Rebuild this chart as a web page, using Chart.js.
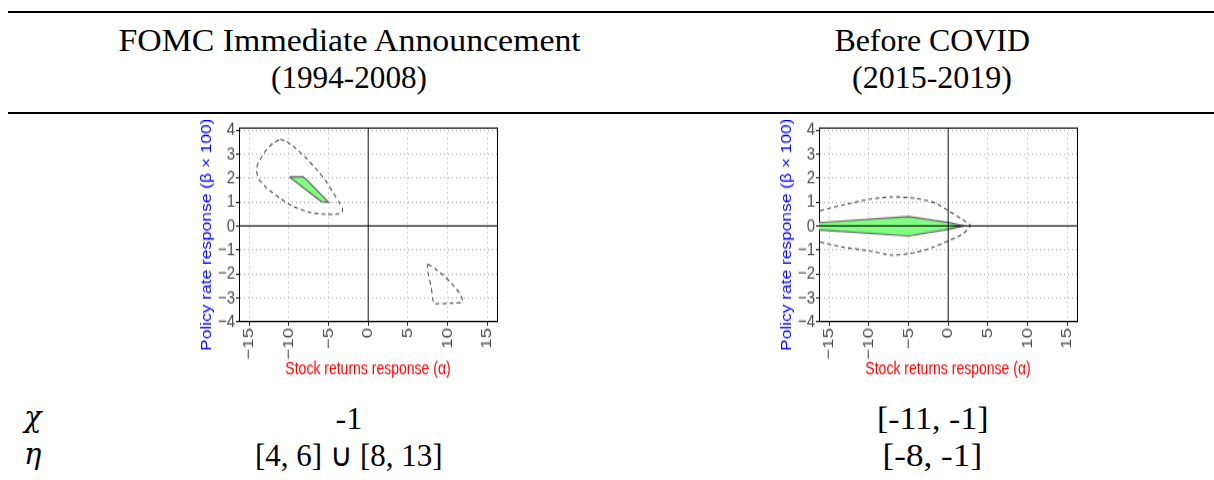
<!DOCTYPE html>
<html lang="en">
<head>
  <meta charset="UTF-8">
  <title>Identified sets: FOMC vs Before COVID</title>
  <script src="https://cdn.jsdelivr.net/npm/chart.js"></script>
  <style>
    body { margin: 0; width: 1214px; height: 480px; background: #fff; position: relative; overflow: hidden;
           font-family: "Liberation Serif", serif; color: #000; }
    .rule { position: absolute; left: 8px; right: 0; height: 2px; background: #000; }
    .txt { position: absolute; font-size: 32px; line-height: 32px; white-space: nowrap; transform-origin: 50% 50%; }
    .math { font-family: "DejaVu Serif", serif; font-style: italic; font-size: 29px; }
    /* the R figures were squeezed into the table taller than wide */
    .plot { position: absolute; top: 120px; width: 310px; height: 211.3px; transform: scaleY(1.24); transform-origin: 0 0; }
  </style>
</head>
<body>
  <div class="rule" style="top:11px"></div>
  <div class="rule" style="top:112px"></div>

  <div class="plot" style="left:195px"><canvas id="fomcChart"></canvas></div>
  <div class="plot" style="left:775px"><canvas id="covidChart"></canvas></div>

  <script>
    // table text
    const colTitles = ['FOMC Immediate Announcement', 'Before COVID'];
    const colPeriods = ['(1994-2008)', '(2015-2019)'];
    const chiRow = ['-1', '[-11, -1]'];
    const etaRow = ['[4, 6] \u222A [8, 13]', '[-8, -1]'];

    // axis ticks
    const xTicks = [-15, -10, -5, 0, 5, 10, 15];
    const yTicks = [-4, -3, -2, -1, 0, 1, 2, 3, 4];

    // FOMC 1994-2008: identified set (green) and confidence band (dashed, two pieces)
    const fomcSetX = [-9.92, -8.2, -7.8, -5.0, -5.9, -9.92];
    const fomcSetY = [2.04, 2.04, 1.93, 0.99, 1.01, 2.04];
    const fomcBandAX = [-11.1, -10.3, -9.2, -7.9, -6.6, -5.4, -4.4, -3.7, -3.25, -3.3, -3.8, -5.2, -7.3, -9.4, -11.1, -12.8, -13.85, -14.1, -13.85, -13.0, -12.0, -11.1];
    const fomcBandAY = [3.61, 3.52, 3.25, 2.85, 2.38, 1.9, 1.38, 1.0, 0.72, 0.57, 0.5, 0.48, 0.56, 0.8, 1.15, 1.58, 1.98, 2.35, 2.65, 3.1, 3.45, 3.61];
    const fomcBandBX = [7.57, 8.4, 9.46, 10.5, 11.5, 11.9, 11.75, 10.7, 8.3, 8.15, 7.95, 7.6, 7.45, 7.57];
    const fomcBandBY = [-1.59, -1.78, -2.05, -2.39, -2.79, -3.07, -3.2, -3.22, -3.24, -3.05, -2.55, -2.05, -1.72, -1.59];

    // Before COVID 2015-2019
    const covidSetX = [-17, -5.0, 0, 2.0, 0, -5.0, -17, -17];
    const covidSetY = [0.12, 0.39, 0.14, 0, -0.14, -0.42, -0.15, 0.12];
    const covidBandX = [-17, -16.2, -13.4, -10, -7.06, -4.1, -1.6, 0, 1.76, 2.8, 1.76, 0, -2, -4.1, -7.06, -10, -13.4, -16.2, -17];
    const covidBandY = [0.55, 0.63, 0.86, 1.11, 1.21, 1.15, 0.95, 0.63, 0.28, 0, -0.35, -0.63, -0.9, -1.11, -1.22, -1.04, -0.88, -0.67, -0.6];

    const X_MIN = -16.3, X_MAX = 16.25, Y_MIN = -4.01, Y_MAX = 4.083;

    // ---- table text ----
    function addText(str, cx, top, w, cls) {
      const el = document.createElement('div');
      el.className = 'txt' + (cls ? ' ' + cls : '');
      el.textContent = str;
      el.style.top = top + 'px';
      document.body.appendChild(el);
      const nat = el.offsetWidth;
      if (cx === null) { el.style.left = '24px'; el.style.transformOrigin = '0 50%'; }
      else el.style.left = (cx - nat / 2) + 'px';
      if (w) el.style.transform = 'scaleX(' + (w / nat) + ')';
    }
    const colCenters = [349, 932];
    const titleWidths = [462, 195];
    const periodWidths = [156, 160];
    const chiWidths = [null, 111];
    const etaWidths = [188, 100];
    colTitles.forEach((t, i) => addText(t, colCenters[i], 24, titleWidths[i]));
    colPeriods.forEach((t, i) => addText(t, colCenters[i], 61, periodWidths[i]));
    chiRow.forEach((t, i) => addText(t, colCenters[i], 402, chiWidths[i]));
    etaRow.forEach((t, i) => addText(t, colCenters[i], 439, etaWidths[i]));
    addText('\u03C7', null, 401, null, 'math');
    addText('\u03B7', null, 438, null, 'math');

    // ---- charts ----
    const pts = (xs, ys) => xs.map((x, i) => ({ x: x, y: ys[i] }));
    const fmt = v => (v < 0 ? '\u2212' + Math.abs(v) : String(v));
    const tickFont = { family: 'Liberation Sans', size: 15 };
    const titleFont = { family: 'Liberation Sans', size: 14 };
    const gridColor = c => (c.tick && c.tick.value === 0 ? 'rgba(0,0,0,0)' : '#b4b4b4');

    function zeroLines() {
      return [
        { data: [{ x: X_MIN, y: 0 }, { x: X_MAX, y: 0 }], showLine: true, borderColor: '#000', borderWidth: 1 },
        { data: [{ x: 0, y: Y_MIN }, { x: 0, y: Y_MAX }], showLine: true, borderColor: '#111', borderWidth: 1 }
      ];
    }
    function setDataset(data) {
      return { data: data, showLine: true, borderColor: '#6a6a6a', borderWidth: 1.2, backgroundColor: '#80ff80', fill: 'shape', tension: 0 };
    }
    function bandDataset(data, tension) {
      return { data: data, showLine: true, borderColor: '#555', borderWidth: 1.1, borderDash: [4, 3], fill: false, tension: tension };
    }

    function drawChart(canvasId, datasets) {
      new Chart(document.getElementById(canvasId), {
        type: 'scatter',
        data: { datasets: datasets },
        options: {
          responsive: true,
          maintainAspectRatio: false,
          animation: false,
          events: [],
          layout: { padding: { left: 0, top: 6.45, right: 8, bottom: 0 } },
          plugins: { legend: { display: false }, tooltip: { enabled: false } },
          elements: { point: { radius: 0 } },
          scales: {
            x: {
              type: 'linear', min: X_MIN, max: X_MAX,
              afterBuildTicks: s => { s.ticks = xTicks.map(v => ({ value: v })); },
              afterFit: s => { s.height = 48.4; s.paddingLeft = 0; s.paddingRight = 0; },
              ticks: { color: '#4d4d4d', font: tickFont, minRotation: 90, maxRotation: 90, autoSkip: false, padding: 1.8, callback: fmt },
              grid: { color: gridColor, tickColor: '#222', tickLength: 3, lineWidth: 1 },
              border: { display: true, color: '#000', width: 1, dash: [1, 3] },
              title: { display: true, text: 'Stock returns response (\u03B1)', color: '#ff0000', font: titleFont, padding: { top: 0, bottom: 2.1 } }
            },
            y: {
              type: 'linear', min: Y_MIN, max: Y_MAX,
              afterBuildTicks: s => { s.ticks = yTicks.map(v => ({ value: v })); },
              afterFit: s => { s.width = 44; s.paddingTop = 0; s.paddingBottom = 0; },
              ticks: { color: '#4d4d4d', font: tickFont, autoSkip: false, padding: 1, callback: fmt },
              grid: { color: gridColor, tickColor: '#222', tickLength: 3, lineWidth: 1 },
              border: { display: true, color: '#000', width: 1, dash: [1, 3] },
              title: { display: true, text: 'Policy rate response (\u03B2 \u00D7 100)' + '\u00A0\u00A0\u00A0\u00A0', color: '#0000ff', font: titleFont, padding: { top: 3.6, bottom: 0 } }
            },
            x2: {
              type: 'linear', position: 'top', min: X_MIN, max: X_MAX,
              ticks: { display: false },
              grid: { drawOnChartArea: false, drawTicks: false },
              border: { display: true, color: '#000', width: 1 },
              afterFit: s => { s.height = 0; s.paddingLeft = 0; s.paddingRight = 0; }
            },
            y2: {
              type: 'linear', position: 'right', min: Y_MIN, max: Y_MAX,
              ticks: { display: false },
              grid: { drawOnChartArea: false, drawTicks: false },
              border: { display: true, color: '#000', width: 1 },
              afterFit: s => { s.width = 0; s.paddingTop = 0; s.paddingBottom = 0; }
            }
          }
        }
      });
    }

    drawChart('fomcChart', zeroLines().concat([
      setDataset(pts(fomcSetX, fomcSetY)),
      bandDataset(pts(fomcBandAX, fomcBandAY), 0.2),
      bandDataset(pts(fomcBandBX, fomcBandBY), 0.1)
    ]));
    drawChart('covidChart', zeroLines().concat([
      setDataset(pts(covidSetX, covidSetY)),
      bandDataset(pts(covidBandX, covidBandY), 0.2)
    ]));
  </script>
</body>
</html>
